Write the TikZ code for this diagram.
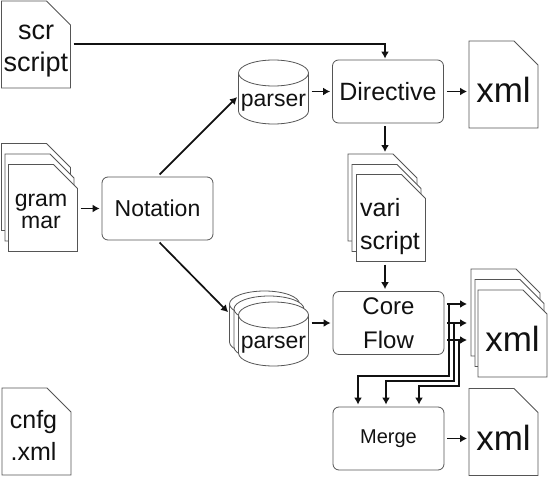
\documentclass[tikz,border=0pt]{standalone}
\usepackage{fontspec}
\setmainfont{Liberation Sans}
\usetikzlibrary{arrows.meta}
\definecolor{cink}{HTML}{111111}
\definecolor{cedge}{HTML}{555555}

% sheet with a cut corner, 69 wide and 87 high
\newcommand{\sheetnode}[3][]{
  \filldraw[edge, shift={(#3)}] (-34.5,-43.5) -- (10.5,-43.5) -- (34.5,-19.5)
    -- (34.5,43.5) -- (-34.5,43.5) -- cycle;
  \node[sheet, #1] (#2) at (#3) {};
}
% drum, 70 wide and 64 high
\newcommand{\drumnode}[3][]{
  \filldraw[edge, shift={(#3)}] (-35,-19) -- (-35,19)
    .. controls (-35,26.2) and (-19.3,32) .. (0,32)
    .. controls (19.3,32) and (35,26.2) .. (35,19) -- (35,-19)
    .. controls (35,-26.2) and (19.3,-32) .. (0,-32)
    .. controls (-19.3,-32) and (-35,-26.2) .. (-35,-19) -- cycle;
  \draw[edge, shift={(#3)}] (-35,-19) .. controls (-35,-11.8) and (-19.3,-6) .. (0,-6)
    .. controls (19.3,-6) and (35,-11.8) .. (35,-19);
  \node[drum, #1] (#2) at (#3) {};
}

\begin{document}
\begin{tikzpicture}[
    x=1pt, y=-1pt,
    >={Latex[length=7pt,width=8pt]},
    sig/.style={->, line width=1.7pt, draw=cink, shorten >=2pt, shorten <=3pt},
    wire/.style={->, line width=1.7pt, draw=cink},
    edge/.style={draw=cedge, fill=white, line width=0.8pt},
    blk/.style={draw=cedge, line width=0.8pt, rounded corners=6pt, align=center,
                minimum height=63pt, minimum width=111pt, text=cink, fill=white, inner sep=0pt},
    sheet/.style={rectangle, minimum width=69pt, minimum height=87pt, inner sep=0pt, outer sep=0pt},
    drum/.style={rectangle, minimum width=70pt, minimum height=64pt, inner sep=0pt, outer sep=0pt},
    txt/.style={align=center, text=cink, inner sep=0pt},
    drumtxt/.style={txt, font=\fontsize{23}{26}\selectfont, yshift=-10.5pt},
    xmltxt/.style={txt, font=\fontsize{35}{40}\selectfont, yshift=-5.5pt},
  ]
  \useasboundingbox (0,0) rectangle (552,479);
  \fill[white] (0,0) rectangle (552,479);

  % input files
  \sheetnode[label={[txt, font=\fontsize{27}{32}\selectfont, yshift=-6.5pt]center:scr\\script}]{scr}{36,44.5}
  \sheetnode{gramA}{36,187}
  \sheetnode{gramB}{39.5,197.5}
  \sheetnode[label={[txt, font=\fontsize{23}{22}\selectfont, yshift=-3.5pt, xshift=-2pt]center:gram\\mar}]{gramC}{43,208}
  \sheetnode[label={[txt, font=\fontsize{25}{32}\selectfont, yshift=-4pt, xshift=-3pt]center:cnfg\\.xml}]{cnfg}{36.5,431.5}

  % boxes
  \node[blk, font=\fontsize{23}{26}\selectfont] (nota) at (157.5,208.5) {Notation};
  \drumnode[label={[drumtxt]center:parser}]{pars}{273.5,92}
  \node[blk, font=\fontsize{25}{28}\selectfont] (dirc) at (388,91.5) {Directive};
  \sheetnode[label={[xmltxt]center:xml}]{xmlA}{503.5,84.5}

  \sheetnode{variA}{382.5,197.5}
  \sheetnode{variB}{386.5,208}
  \sheetnode[label={[txt, align=left, font=\fontsize{25}{33}\selectfont, yshift=-8.5pt, xshift=-1pt]center:vari\\script}]{variC}{391,218}

  \drumnode{parsA}{264.5,323}
  \drumnode{parsB}{269,328}
  \drumnode[label={[drumtxt]center:parser}]{parsC}{273.5,334}
  \node[blk, font=\fontsize{24}{34}\selectfont] (core) at (388.5,323) {Core\\Flow};

  \sheetnode{xmlBa}{505.5,312.5}
  \sheetnode{xmlBb}{509.5,323}
  \sheetnode[label={[xmltxt]center:xml}]{xmlBc}{512.5,333.5}

  \node[blk, font=\fontsize{20}{24}\selectfont] (merge) at (388.5,438.5) {Merge};
  \sheetnode[label={[xmltxt]center:xml}]{xmlC}{503.5,432}

  \coordinate (top) at (385,44);
  \coordinate (fa) at (449,304);
  \coordinate (fb) at (454,323);
  \coordinate (fc) at (459,340);
  \coordinate (ma) at (358,376);
  \coordinate (mb) at (386,381);
  \coordinate (mc) at (419,386);

  \draw[sig, shorten >=1pt] (scr.east |- top) -- (top) -- (top |- dirc.north);
  \draw[sig] (top |- dirc.south) -- (top |- variA.north);
  \draw[sig] (top |- variC.south) -- (top |- core.north);
  \draw[sig] (gramC.east |- nota.west) -- (nota.west);
  \draw[sig] (nota.north) -- (pars.186);
  \draw[sig] (nota.south) -- (parsA.165);
  \draw[sig] (pars.east |- dirc.west) -- (dirc.west);
  \draw[sig] (parsC.east |- core.west) -- (core.west);
  \draw[sig] (dirc.east) -- (dirc.east -| xmlA.west);
  \draw[sig] (merge.east) -- (merge.east -| xmlC.west);

  % three outputs of the flow box
  \draw[sig, shorten >=4pt] (core.east |- fa) -- (fa -| xmlBa.west);
  \draw[sig, shorten >=4pt] (core.east |- fb) -- (fb -| xmlBa.west);
  \draw[sig, shorten >=4pt] (core.east |- fc) -- (fc -| xmlBa.west);
  \draw[wire, shorten >=2pt] (fa) -- (fa |- ma) -- (ma) -- (ma |- merge.north);
  \draw[wire, shorten >=2pt] (fb) -- (fb |- mb) -- (mb) -- (mb |- merge.north);
  \draw[wire, shorten >=2pt] (fc) -- (fc |- mc) -- (mc) -- (mc |- merge.north);
\end{tikzpicture}
\end{document}
